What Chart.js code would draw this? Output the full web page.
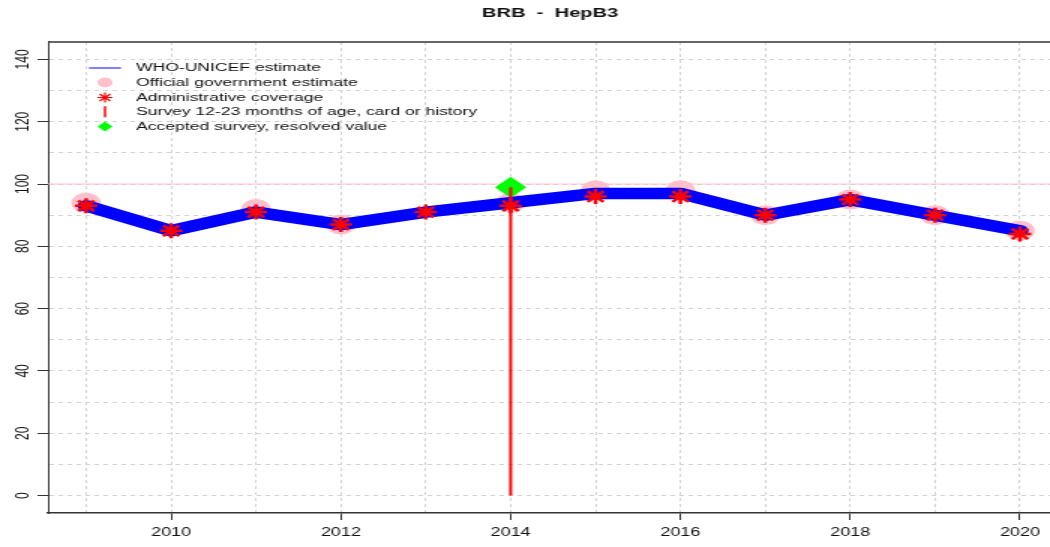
<!DOCTYPE html>
<html>
<head>
<meta charset="utf-8">
<title>BRB - HepB3</title>
<script src="https://cdn.jsdelivr.net/npm/chart.js@4.4.1/dist/chart.umd.min.js"></script>
<style>
  html, body { margin: 0; padding: 0; background: #fff; overflow: hidden; }
  /* the reference is drawn 1.5x wider than tall, so draw narrow and stretch;
     a bit wider than the window so the plot runs off the right edge */
  #wrap { width: 712px; height: 547px; transform: scaleX(1.5); transform-origin: 0 0; }
</style>
</head>
<body>
<div id="wrap"><canvas id="chart"></canvas></div>
<script>
// ── Data ──────────────────────────────────────────────
var years    = [2009, 2010, 2011, 2012, 2013, 2014, 2015, 2016, 2017, 2018, 2019, 2020];
var wuenic   = [93, 85, 91, 87, 91, 94, 97, 97, 90, 95, 90, 85];
var official = [94, null, 92, 87, null, 94, 98, 98, 90, 95, 90, 85];
var admin    = [93, 85, 91, 87, 91, 93, 96, 96, 90, 95, 90, 84];

var surveyYears    = [2014];
var surveyValues   = [99];
var acceptedYears  = [2014];
var acceptedValues = [99];

var xLabels = [2010, 2012, 2014, 2016, 2018, 2020];
var yLabels = [0, 20, 40, 60, 80, 100, 120, 140];
var target  = 100;

var legendItems = [
  'WHO-UNICEF estimate',
  'Official government estimate',
  'Administrative coverage',
  'Survey 12-23 months of age, card or history',
  'Accepted survey, resolved value'
];

// ── Helpers ───────────────────────────────────────────
function pairs(xs, ys) {
  return xs.map(function (x, i) { return { x: x, y: ys[i] }; });
}

function surveyLines() {
  var pts = [];
  surveyYears.forEach(function (yr, i) {
    if (pts.length) pts.push({ x: yr, y: null });
    pts.push({ x: yr, y: 0 });
    pts.push({ x: yr, y: surveyValues[i] });
  });
  return pts;
}

Chart.defaults.font.family = '"Liberation Sans", Arial, sans-serif';
Chart.defaults.color = '#111';

// ── Plugins: target line, top frame, legend ───────────
var targetLine = {
  id: 'targetLine',
  beforeDatasetsDraw: function (chart) {
    var ctx = chart.ctx, a = chart.chartArea;
    var y = chart.scales.y.getPixelForValue(target);
    ctx.save();
    ctx.strokeStyle = '#FFC0CB';
    ctx.lineWidth = 1;
    ctx.beginPath();
    ctx.moveTo(a.left, y);
    ctx.lineTo(a.right, y);
    ctx.stroke();
    ctx.restore();
  }
};

var frameAndLegend = {
  id: 'frameAndLegend',
  afterDraw: function (chart) {
    var ctx = chart.ctx, a = chart.chartArea;
    ctx.save();
    ctx.strokeStyle = '#333';
    ctx.lineWidth = 1.5;
    ctx.beginPath();
    ctx.moveTo(a.left, a.top);
    ctx.lineTo(a.right, a.top);
    ctx.stroke();

    var sx = 70, tx = 90.7;
    var rows = [68, 82.5, 97.5, 111.7, 126.5];

    // line
    ctx.strokeStyle = '#0000FF';
    ctx.lineWidth = 1;
    ctx.beginPath();
    ctx.moveTo(59.3, rows[0]);
    ctx.lineTo(80.7, rows[0]);
    ctx.stroke();

    // pink dot
    ctx.fillStyle = '#FFC0CB';
    ctx.beginPath();
    ctx.arc(sx, rows[1], 5, 0, Math.PI * 2);
    ctx.fill();

    // asterisk
    ctx.strokeStyle = '#FF0000';
    ctx.lineWidth = 1.2;
    ctx.beginPath();
    for (var k = 0; k < 4; k++) {
      var ang = k * Math.PI / 4;
      ctx.moveTo(sx - Math.cos(ang) * 5, rows[2] - Math.sin(ang) * 5);
      ctx.lineTo(sx + Math.cos(ang) * 5, rows[2] + Math.sin(ang) * 5);
    }
    ctx.stroke();

    // survey tick
    ctx.lineWidth = 1.5;
    ctx.beginPath();
    ctx.moveTo(sx, rows[3] - 5.5);
    ctx.lineTo(sx, rows[3] + 5.5);
    ctx.stroke();

    // diamond
    ctx.fillStyle = '#00FF00';
    ctx.beginPath();
    ctx.moveTo(sx, rows[4] - 5);
    ctx.lineTo(sx + 5, rows[4]);
    ctx.lineTo(sx, rows[4] + 5);
    ctx.lineTo(sx - 5, rows[4]);
    ctx.closePath();
    ctx.fill();

    ctx.fillStyle = '#111';
    ctx.font = '11.7px "Liberation Sans", Arial, sans-serif';
    ctx.textBaseline = 'middle';
    ctx.textAlign = 'left';
    legendItems.forEach(function (t, i) { ctx.fillText(t, tx, rows[i]); });
    ctx.restore();
  }
};

// ── Chart ─────────────────────────────────────────────
new Chart(document.getElementById('chart'), {
  type: 'line',
  data: {
    datasets: [
      {
        label: legendItems[3],
        data: surveyLines(),
        borderColor: '#FF0000',
        borderWidth: 2,
        pointRadius: 0,
        spanGaps: false,
        order: 0
      },
      {
        label: legendItems[4],
        data: pairs(acceptedYears, acceptedValues),
        showLine: false,
        pointStyle: 'rectRot',
        pointRadius: 10.5,
        pointBackgroundColor: '#00FF00',
        pointBorderWidth: 0,
        order: 1
      },
      {
        label: legendItems[2],
        data: pairs(years, admin),
        showLine: false,
        pointStyle: 'star',
        pointRadius: 7.5,
        pointBorderColor: '#FF0000',
        pointBorderWidth: 2.5,
        order: 2
      },
      {
        label: legendItems[0],
        data: pairs(years, wuenic),
        borderColor: '#0000FF',
        borderWidth: 11.5,
        borderJoinStyle: 'round',
        borderCapStyle: 'round',
        pointRadius: 0,
        tension: 0,
        order: 3
      },
      {
        label: legendItems[1],
        data: pairs(years, official),
        showLine: false,
        pointStyle: 'circle',
        pointRadius: 10,
        pointBackgroundColor: '#FFC0CB',
        pointBorderWidth: 0,
        order: 4
      }
    ]
  },
  options: {
    responsive: true,
    maintainAspectRatio: false,
    animation: false,
    events: [],
    layout: { padding: 0 },
    plugins: {
      legend: { display: false },
      tooltip: { enabled: false },
      title: {
        display: true,
        fullSize: false,
        text: 'BRB  -  HepB3',
        color: '#111',
        font: { size: 13.4, weight: 'bold' },
        padding: { top: 5, bottom: 20.9 }
      }
    },
    scales: {
      x: {
        type: 'linear',
        min: 2008.55,
        max: 2020.38,
        afterFit: function (s) { s.height = 34; },
        ticks: {
          stepSize: 1,
          includeBounds: false,
          autoSkip: false,
          maxRotation: 0,
          padding: 5,
          font: { size: 12 },
          color: '#111',
          callback: function (v) { return xLabels.indexOf(v) >= 0 ? String(v) : ''; }
        },
        grid: {
          color: '#d3d3d3',
          lineWidth: 1,
          tickLength: 7,
          tickColor: function (c) { return c.tick && xLabels.indexOf(c.tick.value) >= 0 ? '#333' : 'rgba(0,0,0,0)'; }
        },
        border: { display: true, color: '#333', width: 1.5, dash: [3, 3] }
      },
      y: {
        min: -5.6,
        max: 145.6,
        afterFit: function (s) { s.width = 32; },
        ticks: {
          stepSize: 10,
          includeBounds: false,
          autoSkip: false,
          minRotation: 90,
          maxRotation: 90,
          crossAlign: 'center',
          padding: -1,
          font: { size: 12 },
          color: '#111',
          callback: function (v) { return yLabels.indexOf(v) >= 0 ? String(v) : ''; }
        },
        grid: {
          color: '#d3d3d3',
          lineWidth: 1,
          tickLength: 7,
          tickColor: function (c) { return c.tick && yLabels.indexOf(c.tick.value) >= 0 ? '#333' : 'rgba(0,0,0,0)'; }
        },
        border: { display: true, color: '#333', width: 1, dash: [3, 3] }
      }
    }
  },
  plugins: [targetLine, frameAndLegend]
});
</script>
</body>
</html>
